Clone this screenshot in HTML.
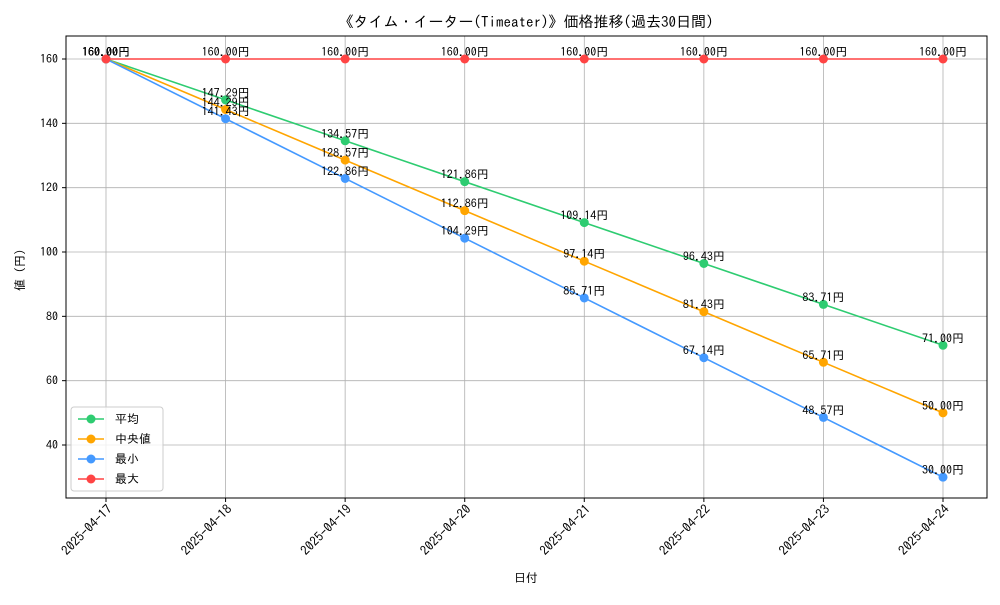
<!DOCTYPE html>
<html><head><meta charset="utf-8">
<style>
body{margin:0;background:#fff;}
svg text{font-family:"IPAGothic","Liberation Sans","Noto Sans CJK JP",sans-serif;}
</style></head>
<body>
<svg id="chart" width="1000" height="600" xmlns="http://www.w3.org/2000/svg">
<rect width="1000" height="600" fill="#fff"/>
<text x="526" y="27" font-size="15" text-anchor="middle">《タイム・イーター(Timeater)》価格推移(過去30日間)</text>
<g id="grid"></g>
<rect x="66" y="36" width="921" height="462" fill="none" stroke="#000" stroke-width="1"/>
<g id="axes"></g>
<g id="series"></g>
<text x="526" y="582" font-size="12" text-anchor="middle">日付</text>
<text x="24" y="270" font-size="12" text-anchor="middle" transform="rotate(-90 24 270)">値 (円)</text>
<g id="legend"></g>
</svg>
<script>
const categories=["2025-04-17","2025-04-18","2025-04-19","2025-04-20","2025-04-21","2025-04-22","2025-04-23","2025-04-24"];
const avgValues=[160,147.29,134.57,121.86,109.14,96.43,83.71,71.00];
const medianValues=[160,144.29,128.57,112.86,97.14,81.43,65.71,50.00];
const minValues=[160,141.43,122.86,104.29,85.71,67.14,48.57,30.00];
const maxValues=[160,160,160,160,160,160,160,160];
const yTicks=[40,60,80,100,120,140,160];
const seriesNames=["平均","中央値","最小","最大"];

const NS="http://www.w3.org/2000/svg";
const X0=106,X1=943,Y160=59,Y40=445;
function xPos(i){return X0+(X1-X0)*i/(categories.length-1);}
function yPos(v){return Y40-(v-40)*(Y40-Y160)/120;}
function mk(tag,attrs,parent){const e=document.createElementNS(NS,tag);for(const k in attrs)e.setAttribute(k,attrs[k]);parent.appendChild(e);return e;}
const grid=document.getElementById('grid'),axes=document.getElementById('axes'),ser=document.getElementById('series'),leg=document.getElementById('legend');

categories.forEach((c,i)=>{
  const x=xPos(i);
  const g=mk('line',{x1:x,x2:x,y1:36,y2:498,stroke:'#b0b0b0','stroke-width':0.8},grid);
  
  
  const t=mk('line',{x1:x,x2:x,y1:498,y2:502,stroke:'#000'},axes);
  
  
  const ax=x+7,ay=510;
  const tx=mk('text',{x:ax,y:ay,'font-size':13,'text-anchor':'end',transform:`rotate(-45 ${ax} ${ay})`},axes);
  tx.textContent=c;
  
  
});
yTicks.forEach(v=>{
  const y=yPos(v);
  const g=mk('line',{x1:66,x2:987,y1:y,y2:y,stroke:'#b0b0b0','stroke-width':0.8},grid);
  
  
  const t=mk('line',{x1:62,x2:66,y1:y,y2:y,stroke:'#000'},axes);
  
  
  const tx=mk('text',{x:58,y:y+4,'font-size':12,'text-anchor':'end'},axes);
  tx.textContent=v;
  
  
});

const allSeries=[avgValues,medianValues,minValues,maxValues];
const colors=["#2ecc71","#ffa500","#4499ff","#ff4444"];
const keys=["avg","median","min","max"];
allSeries.forEach((vals,s)=>{
  const pts=vals.map((v,i)=>xPos(i)+','+yPos(v)).join(' ');
  const pl=mk('polyline',{points:pts,fill:'none',stroke:colors[s],'stroke-width':1.6},ser);
  
  
  vals.forEach((v,i)=>{
    const c=mk('circle',{cx:xPos(i),cy:yPos(v),r:4.5,fill:colors[s]},ser);
    
    
    const t=mk('text',{x:xPos(i),y:yPos(v)-3,'font-size':12,'text-anchor':'middle',fill:'#000'},ser);
    t.textContent=v.toFixed(2)+'円';
    
    
  });
});

const box=mk('rect',{x:71,y:407,width:92,height:84,fill:'#fff','fill-opacity':0.8,stroke:'#ccc',rx:3},leg);


seriesNames.forEach((n,s)=>{
  const y=419+s*20;
  const l=mk('line',{x1:78,x2:104,y1:y,y2:y,stroke:colors[s],'stroke-width':1.6},leg);
  
  
  const c=mk('circle',{cx:91,cy:y,r:4.5,fill:colors[s]},leg);
  
  
  const t=mk('text',{x:115,y:y+4,'font-size':12},leg);
  t.textContent=n;
  
  
});
</script>
</body></html>
